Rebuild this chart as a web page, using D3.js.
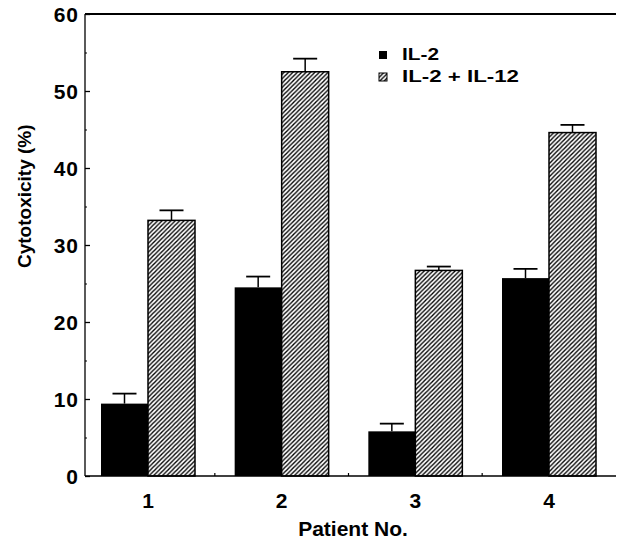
<!doctype html>
<html>
<head>
<meta charset="utf-8">
<title>Cytotoxicity</title>
<script src="https://d3js.org/d3.v7.min.js"></script>
<style>
  body { margin: 0; background: #fff; }
  text { font-family: "Liberation Sans", Arial, sans-serif; font-weight: bold; fill: #000; }
</style>
</head>
<body>
<svg width="617" height="540"></svg>
<script>
// data
var patients = ["1", "2", "3", "4"];
var il2 = [9.4, 24.5, 5.8, 25.7];
var il2Err = [1.3, 1.4, 1.0, 1.2];
var il2il12 = [33.2, 52.5, 26.7, 44.6];
var il2il12Err = [1.3, 1.7, 0.5, 1.0];
var yTicks = [0, 10, 20, 30, 40, 50, 60];
var yMinor = [5, 15, 25, 35, 45, 55];
var seriesNames = ["IL-2", "IL-2 + IL-12"];

var svg = d3.select("svg");

var plotL = 85, plotR = 616, plotT = 14, plotB = 476;

var y = d3.scaleLinear().domain([0, 60]).range([plotB, plotT]);
var x = d3.scalePoint().domain(patients).range([148, 549]);
var barW = 47;

// hatch pattern
var defs = svg.append("defs");
var pat = defs.append("pattern")
    .attr("id", "hatch")
    .attr("patternUnits", "userSpaceOnUse")
    .attr("width", 4.4).attr("height", 4.4);
pat.append("rect").attr("width", 4.4).attr("height", 4.4).attr("fill", "#fff");
pat.append("path")
    .attr("d", "M-1,1 l2,-2 M0,4.4 l4.4,-4.4 M3.4,5.4 l2,-2")
    .attr("stroke", "#000").attr("stroke-width", 1.4);

var rows = patients.map(function (p, i) {
    return { p: p, a: il2[i], ae: il2Err[i], b: il2il12[i], be: il2il12Err[i] };
});

// error bars (upward only)
function errBar(g, cx, v, e) {
    g.append("line")
        .attr("x1", cx).attr("x2", cx)
        .attr("y1", y(v)).attr("y2", y(v + e))
        .attr("stroke", "#000").attr("stroke-width", 1.5);
    g.append("line")
        .attr("x1", cx - 12).attr("x2", cx + 12)
        .attr("y1", y(v + e)).attr("y2", y(v + e))
        .attr("stroke", "#000").attr("stroke-width", 1.8);
}

var groups = svg.selectAll("g.grp")
    .data(rows)
    .enter().append("g").attr("class", "grp");

groups.each(function (d) {
    var g = d3.select(this);
    var cx = x(d.p);
    errBar(g, cx - barW / 2, d.a, d.ae);
    errBar(g, cx + barW / 2, d.b, d.be);
    g.append("rect")
        .attr("x", cx - barW).attr("y", y(d.a))
        .attr("width", barW).attr("height", y(0) - y(d.a))
        .attr("fill", "#000");
    g.append("rect")
        .attr("x", cx).attr("y", y(d.b))
        .attr("width", barW).attr("height", y(0) - y(d.b))
        .attr("fill", "url(#hatch)")
        .attr("stroke", "#000").attr("stroke-width", 1.5);
});

// y axis
var yAxis = svg.append("g")
    .attr("transform", "translate(" + plotL + ",0)")
    .call(d3.axisLeft(y).tickValues(yTicks).tickSize(-5).tickPadding(6));
yAxis.select(".domain").remove();
yAxis.selectAll("line").attr("stroke", "#000").attr("stroke-width", 1.3);
yAxis.selectAll("text")
    .style("font-size", "21px")
    .style("letter-spacing", "1px")
    .attr("dy", "0.36em");

svg.append("g")
    .attr("transform", "translate(" + plotL + ",0)")
    .call(d3.axisLeft(y).tickValues(yMinor).tickSize(-2).tickFormat(""))
    .call(function (g) { g.select(".domain").remove(); })
    .selectAll("line").attr("stroke", "#000");

// frame: left axis, top line, bottom axis
svg.append("line").attr("x1", plotL).attr("x2", plotL).attr("y1", plotT).attr("y2", plotB)
    .attr("stroke", "#000").attr("stroke-width", 1.3);
svg.append("line").attr("x1", plotL).attr("x2", plotR).attr("y1", plotT).attr("y2", plotT)
    .attr("stroke", "#000").attr("stroke-width", 1.8);
svg.append("line").attr("x1", plotL).attr("x2", plotR).attr("y1", plotB).attr("y2", plotB)
    .attr("stroke", "#000").attr("stroke-width", 1.6);

// x axis labels and small ticks between groups
var step = x.step();
svg.selectAll("line.xt")
    .data(patients.slice(0, 3))
    .enter().append("line").attr("class", "xt")
    .attr("x1", function (d) { return x(d) + step / 2; })
    .attr("x2", function (d) { return x(d) + step / 2; })
    .attr("y1", plotB).attr("y2", plotB - 3)
    .attr("stroke", "#000").attr("stroke-width", 1.2);

svg.selectAll("text.xl")
    .data(patients)
    .enter().append("text").attr("class", "xl")
    .attr("x", function (d) { return x(d); })
    .attr("y", 508)
    .attr("text-anchor", "middle")
    .style("font-size", "21px")
    .text(function (d) { return d; });

svg.append("text")
    .attr("x", 353).attr("y", 536)
    .attr("text-anchor", "middle")
    .style("font-size", "21px")
    .text("Patient No.");

svg.append("text")
    .attr("transform", "translate(31,268) rotate(-90)")
    .attr("text-anchor", "start")
    .style("font-size", "19px")
    .text("Cytotoxicity (%)");

// legend
var leg = svg.selectAll("g.leg")
    .data(seriesNames)
    .enter().append("g").attr("class", "leg")
    .attr("transform", function (d, i) { return "translate(379," + (51 + i * 22) + ")"; });
leg.append("rect")
    .attr("width", 8).attr("height", 8)
    .attr("fill", function (d, i) { return i === 0 ? "#000" : "url(#hatch)"; })
    .attr("stroke", "#000").attr("stroke-width", function (d, i) { return i === 0 ? 0 : 1; });
leg.append("text")
    .attr("x", 23).attr("y", 9)
    .style("font-size", "17px")
    .attr("textLength", function (d, i) { return i === 0 ? 37 : 117; })
    .attr("lengthAdjust", "spacingAndGlyphs")
    .text(function (d) { return d; });
</script>
</body>
</html>
